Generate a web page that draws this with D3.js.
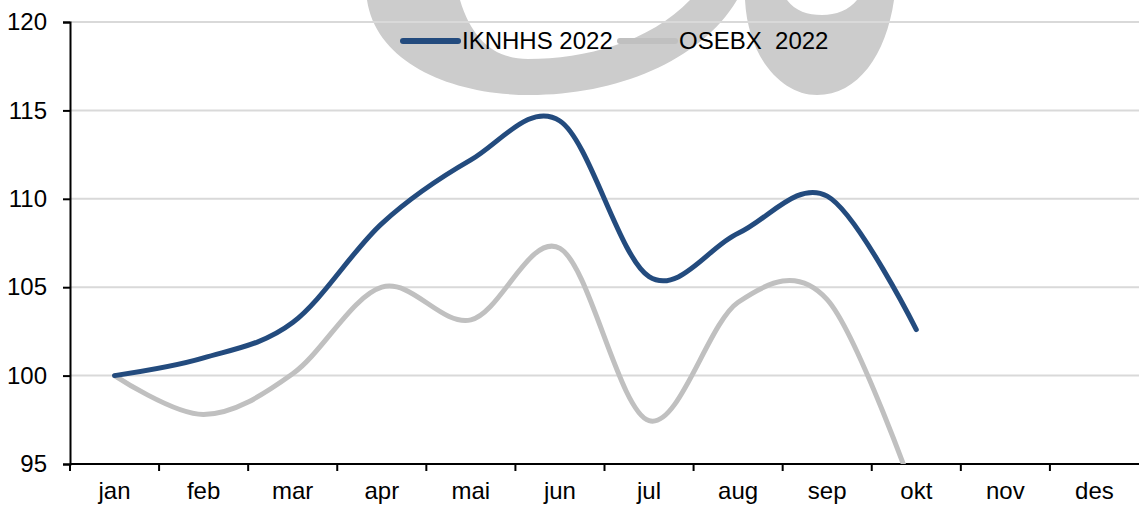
<!DOCTYPE html>
<html>
<head>
<meta charset="utf-8">
<script src="https://cdn.jsdelivr.net/npm/d3@7"></script>
<style>
  body { margin: 0; background: #fff; }
  text { font-family: "Liberation Sans", Arial, sans-serif; fill: #000; }
</style>
</head>
<body>
<div id="chart"></div>
<script>
const months = ["jan", "feb", "mar", "apr", "mai", "jun", "jul", "aug", "sep", "okt", "nov", "des"];
const iknhhs = [100, 101.0, 103.0, 108.6, 112.2, 114.4, 105.6, 108.05, 110.15, 102.6];
const osebx = [100, 97.8, 100.1, 105.0, 103.15, 107.2, 97.45, 104.15, 104.3, 93.0];
const yTicks = [95, 100, 105, 110, 115, 120];
const seriesNames = ["IKNHHS 2022", "OSEBX  2022"];
const seriesColors = ["#234b7e", "#c0c0c0"];

const width = 1139, height = 505;
const margin = { top: 22, right: 0, bottom: 41, left: 70 };

const svg = d3.select("#chart")
  .append("svg")
  .attr("width", width)
  .attr("height", height);

const x = d3.scaleBand()
  .domain(months)
  .range([margin.left, width - margin.right]);

const y = d3.scaleLinear()
  .domain([95, 120])
  .range([height - margin.bottom, margin.top]);

// watermark in the background
const wm = svg.append("g").attr("fill", "#cccccc");
wm.append("path")
  .attr("fill-rule", "evenodd")
  .attr("d", "M367,0 C376,62 450,95 530,95 C615,95 700,62 737,0 Z " +
             "M460,0 C472,40 495,59 528,59 C585,59 650,42 690,0 Z");
wm.append("path")
  .attr("fill-rule", "evenodd")
  .attr("d", "M745,0 C748,58 782,95 817,95 C858,95 886,55 894,0 Z " +
             "M787,0 C795,11 808,15 822,15 C836,15 849,10 857,0 Z");

// gridlines
svg.append("g")
  .selectAll("line")
  .data(yTicks.slice(1))
  .join("line")
  .attr("x1", margin.left)
  .attr("x2", width - margin.right)
  .attr("y1", d => y(d))
  .attr("y2", d => y(d))
  .attr("stroke", "#d9d9d9")
  .attr("stroke-width", 2);

// y axis
const yAxis = svg.append("g")
  .attr("transform", `translate(${margin.left},0)`)
  .call(d3.axisLeft(y).tickValues(yTicks).tickSize(7).tickPadding(16));
yAxis.select(".domain").attr("stroke", "#000").attr("stroke-width", 2);
yAxis.selectAll(".tick line").attr("stroke", "#000").attr("stroke-width", 2);
yAxis.selectAll(".tick text")
  .attr("font-size", 24)
  .attr("font-family", "Liberation Sans, Arial, sans-serif");

// x axis: ticks sit on the category boundaries
const xAxisG = svg.append("g")
  .attr("transform", `translate(0,${y(95)})`);
xAxisG.append("line")
  .attr("x1", margin.left)
  .attr("x2", width)
  .attr("stroke", "#000")
  .attr("stroke-width", 2);
xAxisG.selectAll("line.tk")
  .data(months)
  .join("line")
  .attr("class", "tk")
  .attr("x1", d => x(d))
  .attr("x2", d => x(d))
  .attr("y1", 0)
  .attr("y2", 7)
  .attr("stroke", "#000")
  .attr("stroke-width", 2);
xAxisG.selectAll("text")
  .data(months)
  .join("text")
  .attr("x", d => x(d) + x.bandwidth() / 2)
  .attr("y", 35)
  .attr("text-anchor", "middle")
  .attr("font-size", 24)
  .text(d => d);

// lines
svg.append("clipPath")
  .attr("id", "plot")
  .append("rect")
  .attr("x", margin.left)
  .attr("y", margin.top - 10)
  .attr("width", width - margin.left)
  .attr("height", y(95) - margin.top + 10);

const line = d3.line()
  .x((d, i) => x(months[i]) + x.bandwidth() / 2)
  .y(d => y(d))
  .curve(d3.curveCatmullRom.alpha(0));

const plot = svg.append("g").attr("clip-path", "url(#plot)");
[osebx, iknhhs].forEach((vals, k) => {
  plot.append("path")
    .datum(vals)
    .attr("fill", "none")
    .attr("stroke", k === 0 ? seriesColors[1] : seriesColors[0])
    .attr("stroke-width", 5)
    .attr("stroke-linecap", "round")
    .attr("stroke-linejoin", "round")
    .attr("d", line);
});

// legend
const legendPos = [403, 620];
const legend = svg.append("g");
seriesNames.forEach((name, i) => {
  legend.append("line")
    .attr("x1", legendPos[i])
    .attr("x2", legendPos[i] + 55)
    .attr("y1", 41)
    .attr("y2", 41)
    .attr("stroke", seriesColors[i])
    .attr("stroke-width", 6)
    .attr("stroke-linecap", "round");
  legend.append("text")
    .attr("x", legendPos[i] + 59)
    .attr("y", 49)
    .attr("font-size", 24)
    .style("white-space", "pre")
    .text(name);
});
</script>
</body>
</html>
